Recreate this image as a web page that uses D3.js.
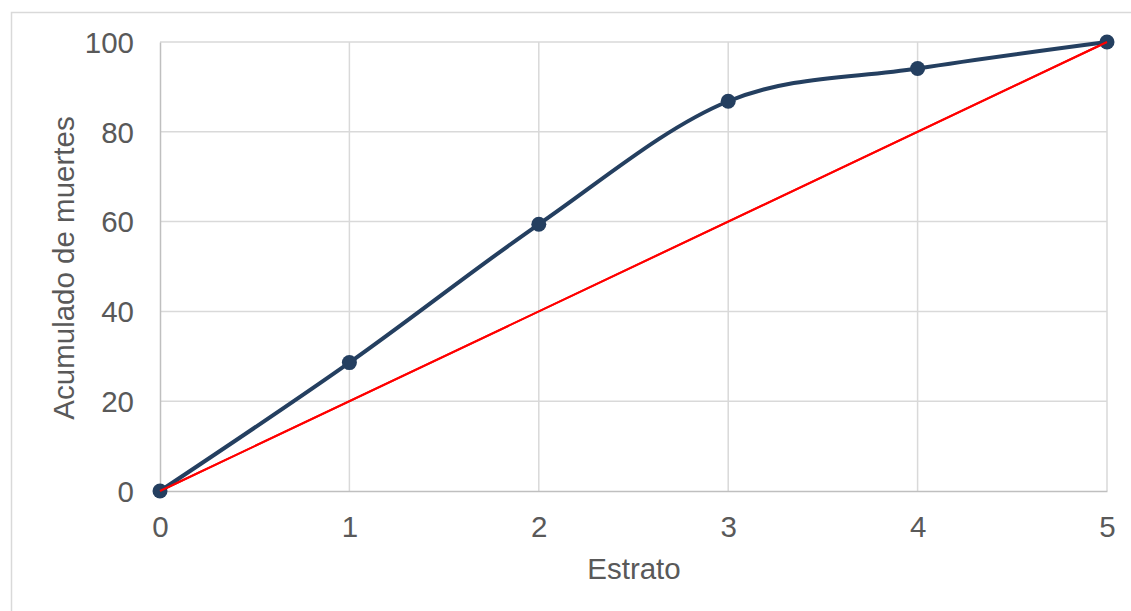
<!DOCTYPE html>
<html><head><meta charset="utf-8">
<script src="https://cdn.jsdelivr.net/npm/d3@7"></script>
<style>body{margin:0;background:#fff}svg{display:block}</style>
</head><body>
<script>
const estratos = [0, 1, 2, 3, 4, 5];
const acumulado = [0, 28.6, 59.4, 86.8, 94.1, 100];
const referencia = [0, 100];
const referenciaX = [0, 5];
const yTicks = [0, 20, 40, 60, 80, 100];
const xTicks = [0, 1, 2, 3, 4, 5];

const W = 1131, H = 611;
const svg = d3.select("body").append("svg").attr("width", W).attr("height", H);
svg.append("rect").attr("x", 11.5).attr("y", 12.5).attr("width", 1300).attr("height", 800)
  .attr("fill", "none").attr("stroke", "#d9d9d9").attr("stroke-width", 1.5);

const x = d3.scaleLinear().domain([0, 5]).range([160, 1107]);
const y = d3.scaleLinear().domain([0, 100]).range([491, 42]);
const font = "Liberation Sans, Arial, sans-serif";
const tc = "#595959";
const fs = "29.5px";

// gridlines
svg.append("g").selectAll("line").data(yTicks.filter(d => d > 0)).join("line")
  .attr("x1", x(0)).attr("x2", x(5)).attr("y1", d => y(d)).attr("y2", d => y(d))
  .attr("stroke", "#d9d9d9").attr("stroke-width", 1.5);
svg.append("g").selectAll("line").data(xTicks.filter(d => d > 0)).join("line")
  .attr("x1", d => x(d)).attr("x2", d => x(d)).attr("y1", y(0)).attr("y2", y(100))
  .attr("stroke", "#d9d9d9").attr("stroke-width", 1.5);

// axes
const xAxis = svg.append("g").attr("transform", `translate(0,${y(0)})`)
  .call(d3.axisBottom(x).tickValues(xTicks).tickSize(0).tickPadding(25).tickFormat(d3.format("d")));
const yAxis = svg.append("g").attr("transform", `translate(${x(0)},0)`)
  .call(d3.axisLeft(y).tickValues(yTicks).tickSize(0).tickPadding(26).tickFormat(d3.format("d")));
[xAxis, yAxis].forEach(a => {
  a.select(".domain").attr("stroke", "#bfbfbf").attr("stroke-width", 1.5);
  a.selectAll("text").attr("fill", tc).style("font-family", font).style("font-size", fs);
});
yAxis.selectAll("text").attr("dy", "0.35em");

// reference line
svg.append("path")
  .datum(referenciaX.map((d, i) => [d, referencia[i]]))
  .attr("d", d3.line().x(d => x(d[0])).y(d => y(d[1])))
  .attr("fill", "none").attr("stroke", "#ff0000").attr("stroke-width", 2);

// series
const pts = estratos.map((d, i) => [d, acumulado[i]]);
svg.append("path").datum(pts)
  .attr("d", d3.line().x(d => x(d[0])).y(d => y(d[1])).curve(d3.curveCatmullRom.alpha(0)))
  .attr("fill", "none").attr("stroke", "#243f60").attr("stroke-width", 4);
svg.append("g").selectAll("circle").data(pts).join("circle")
  .attr("cx", d => x(d[0])).attr("cy", d => y(d[1])).attr("r", 7.5).attr("fill", "#243f60");

// red line drawn on top as in the reference
svg.append("path")
  .datum(referenciaX.map((d, i) => [d, referencia[i]]))
  .attr("d", d3.line().x(d => x(d[0])).y(d => y(d[1])))
  .attr("fill", "none").attr("stroke", "#ff0000").attr("stroke-width", 2);

// titles
svg.append("text").attr("x", 634).attr("y", 579).attr("text-anchor", "middle")
  .attr("fill", tc).style("font-family", font).style("font-size", fs).text("Estrato");
svg.append("text").attr("transform", "translate(74,268) rotate(-90)").attr("text-anchor", "middle")
  .attr("fill", tc).style("font-family", font).style("font-size", fs).text("Acumulado de muertes");
</script>
</body></html>
